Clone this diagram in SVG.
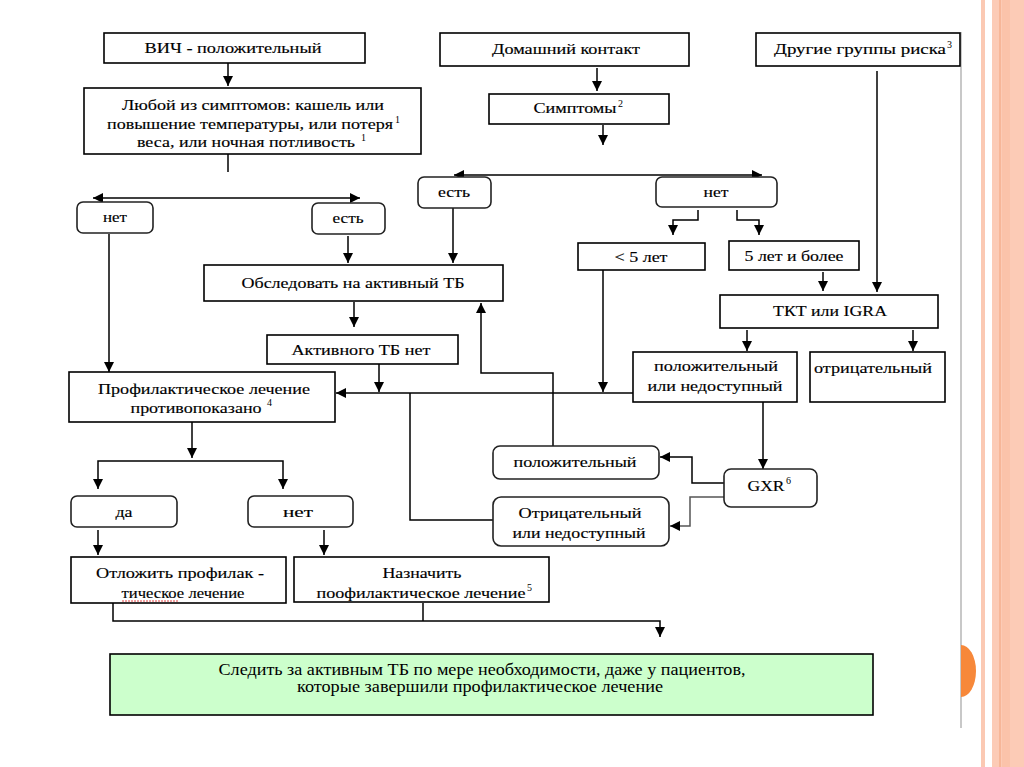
<svg xmlns="http://www.w3.org/2000/svg" width="1024" height="767" viewBox="0 0 1024 767">
<style>
.b{fill:#fff;stroke:#000;stroke-width:1.6}
.r{fill:#fff;stroke:#222;stroke-width:1.6}
.g{fill:#ccffcc;stroke:#000;stroke-width:1.6}
.t{font-family:'Liberation Serif','DejaVu Serif',serif;font-size:15px;fill:#000;stroke:#000;stroke-width:0.15;text-anchor:middle}
.s{font-family:'Liberation Serif','DejaVu Serif',serif;font-size:10px;fill:#000}
.gt{font-family:'Liberation Serif','DejaVu Serif',serif;font-size:16px;fill:#000;text-anchor:middle}
.c{fill:none;stroke:#000;stroke-width:1.5}
.ca{fill:none;stroke:#000;stroke-width:1.5;marker-end:url(#ah)}
.cd{fill:none;stroke:#000;stroke-width:1.5;marker-start:url(#ah);marker-end:url(#ah)}
</style>
<defs>
<marker id="ah" markerUnits="userSpaceOnUse" markerWidth="10" markerHeight="10" viewBox="0 0 10 10" refX="10" refY="5" orient="auto-start-reverse">
<path d="M0,0 L10,5 L0,10 Z" fill="#000"/>
</marker>
</defs>
<rect width="1024" height="767" fill="#fff"/>
<g id="decoration">
<line x1="961" y1="32" x2="961" y2="728" stroke="#c8c8c8" stroke-width="2"/>
<path d="M961,645 A15,26 0 0 1 961,697 Z" fill="#f7883a"/>
<rect x="981" y="0" width="4" height="767" fill="#fbc9b3"/>
<rect x="992" y="0" width="32" height="767" fill="#fccbb6"/>
<line x1="1000" y1="0" x2="1000" y2="767" stroke="#f2a27a" stroke-width="1"/>
<rect x="1002" y="0" width="8" height="767" fill="#fbc3aa"/>
</g>
<g id="connectors">
<path class="ca" d="M228,63 V86"/>
<path class="c" d="M228,154 V172"/>
<path class="cd" d="M93,198 H360"/>
<path class="ca" d="M109,234 V372"/>
<path class="ca" d="M348,236 V263"/>
<path class="ca" d="M453,208 V263"/>
<path class="ca" d="M354,302 V327"/>
<path class="ca" d="M379,364 V392"/>
<path class="ca" d="M633,393 H336"/>
<path class="ca" d="M603,270 V392"/>
<path class="c" d="M493,520 H410 V393"/>
<path class="ca" d="M553,446 V373 H481 V303"/>
<path class="ca" d="M597,68 V91"/>
<path class="ca" d="M603,125 V145"/>
<path class="cd" d="M454,175 H762"/>
<path class="ca" d="M698,210 V220 H673 V235"/>
<path class="ca" d="M737,210 V220 H759 V235"/>
<path class="ca" d="M823,272 V291"/>
<path class="ca" d="M877,71 V292"/>
<path class="ca" d="M747,330 V351"/>
<path class="ca" d="M913,330 V351"/>
<path class="ca" d="M763,402 V469"/>
<path class="ca" d="M724,483 H692 V457 H660"/>
<path class="ca" d="M724,497 H690 V526 H670" style="stroke:#555"/>
<path class="ca" d="M192,422 V458"/>
<path class="ca" d="M192,461 H98 V489"/>
<path class="ca" d="M192,461 H283 V489"/>
<path class="ca" d="M98,530 V555"/>
<path class="ca" d="M324,530 V555"/>
<path class="ca" d="M113,603 V621 H660 V637"/>
<path class="c" d="M423,603 V621"/>
</g>
<g id="n1"><rect class="b" x="104" y="33" width="261" height="30"/><text class="t" x="233" y="53" textLength="177" lengthAdjust="spacingAndGlyphs">ВИЧ - положительный</text></g>
<g id="n2"><rect class="b" x="84" y="88" width="337" height="66"/>
<text class="t" x="253" y="110" textLength="262" lengthAdjust="spacingAndGlyphs">Любой из симптомов: кашель или</text>
<text class="t" x="250" y="129" textLength="286" lengthAdjust="spacingAndGlyphs">повышение температуры, или потеря</text><text class="s" x="395" y="123">1</text>
<text class="t" x="246" y="147" textLength="218" lengthAdjust="spacingAndGlyphs">веса, или ночная потливость</text><text class="s" x="361" y="141">1</text></g>
<g id="n3"><rect class="r" x="77" y="202" width="76" height="31" rx="6"/><text class="t" x="115" y="222" textLength="24" lengthAdjust="spacingAndGlyphs">нет</text></g>
<g id="n4"><rect class="r" x="312" y="203" width="73" height="31" rx="6"/><text class="t" x="348" y="223" textLength="31" lengthAdjust="spacingAndGlyphs">есть</text></g>
<g id="n5"><rect class="b" x="204" y="265" width="299" height="36"/><text class="t" x="353" y="288" textLength="223" lengthAdjust="spacingAndGlyphs">Обследовать на активный ТБ</text></g>
<g id="n6"><rect class="b" x="267" y="335" width="191" height="29"/><text class="t" x="361" y="355" textLength="139" lengthAdjust="spacingAndGlyphs">Активного ТБ нет</text></g>
<g id="n7"><rect class="b" x="69" y="372" width="266" height="50"/>
<text class="t" x="204" y="394" textLength="212" lengthAdjust="spacingAndGlyphs">Профилактическое лечение</text>
<text class="t" x="196" y="413" textLength="131" lengthAdjust="spacingAndGlyphs">противопоказано</text><text class="s" x="267" y="406">4</text></g>
<g id="n8"><rect class="r" x="71" y="496" width="106" height="31" rx="6"/><text class="t" x="124" y="517" textLength="17" lengthAdjust="spacingAndGlyphs">да</text></g>
<g id="n9"><rect class="r" x="248" y="496" width="105" height="31" rx="6"/><text class="t" x="298" y="517" textLength="30" lengthAdjust="spacingAndGlyphs">нет</text></g>
<g id="n10"><rect class="b" x="71" y="557" width="215" height="46"/>
<text class="t" x="180" y="578" textLength="168" lengthAdjust="spacingAndGlyphs">Отложить профилак -</text>
<text class="t" x="183" y="598" textLength="123" lengthAdjust="spacingAndGlyphs">тическое лечение</text>
<path d="M122,601 H178" stroke="#e04040" stroke-width="1" stroke-dasharray="2,1" fill="none"/></g>
<g id="n11"><rect class="b" x="294" y="557" width="255" height="45"/>
<text class="t" x="422" y="578" textLength="79" lengthAdjust="spacingAndGlyphs">Назначить</text>
<text class="t" x="421" y="598" textLength="209" lengthAdjust="spacingAndGlyphs">поофилактическое лечение</text><text class="s" x="527" y="591">5</text></g>
<g id="n12"><rect class="g" x="110" y="654" width="763" height="61"/>
<text class="gt" x="482" y="675" textLength="527" lengthAdjust="spacingAndGlyphs">Следить за активным ТБ по мере необходимости, даже у пациентов,</text>
<text class="gt" x="480" y="692" textLength="366" lengthAdjust="spacingAndGlyphs">которые завершили профилактическое лечение</text></g>
<g id="n13"><rect class="b" x="440" y="33" width="249" height="33"/><text class="t" x="566" y="54" textLength="148" lengthAdjust="spacingAndGlyphs">Домашний контакт</text></g>
<g id="n14"><rect class="b" x="489" y="94" width="180" height="30"/><text class="t" x="575" y="113" textLength="83" lengthAdjust="spacingAndGlyphs">Симптомы</text><text class="s" x="618" y="107">2</text></g>
<g id="n15"><rect class="b" x="756" y="33" width="204" height="33"/><text class="t" x="860" y="54" textLength="172" lengthAdjust="spacingAndGlyphs">Другие группы риска</text><text class="s" x="947" y="48">3</text></g>
<g id="n16"><rect class="r" x="418" y="177" width="73" height="31" rx="6"/><text class="t" x="454" y="197" textLength="32" lengthAdjust="spacingAndGlyphs">есть</text></g>
<g id="n17"><rect class="r" x="656" y="177" width="121" height="30" rx="6"/><text class="t" x="716" y="197" textLength="25" lengthAdjust="spacingAndGlyphs">нет</text></g>
<g id="n18"><rect class="b" x="578" y="243" width="127" height="27"/><text class="t" x="641" y="262" textLength="53" lengthAdjust="spacingAndGlyphs">&lt; 5 лет</text></g>
<g id="n19"><rect class="b" x="729" y="241" width="130" height="29"/><text class="t" x="794" y="261" textLength="99" lengthAdjust="spacingAndGlyphs">5 лет и более</text></g>
<g id="n20"><rect class="b" x="720" y="295" width="218" height="33"/><text class="t" x="830" y="316" textLength="114" lengthAdjust="spacingAndGlyphs">ТКТ или IGRA</text></g>
<g id="n21"><rect class="b" x="633" y="352" width="164" height="50"/>
<text class="t" x="716" y="371" textLength="124" lengthAdjust="spacingAndGlyphs">положительный</text>
<text class="t" x="715" y="391" textLength="135" lengthAdjust="spacingAndGlyphs">или недоступный</text></g>
<g id="n22"><rect class="b" x="810" y="352" width="135" height="50"/><text class="t" x="814" y="373" textLength="118" lengthAdjust="spacingAndGlyphs" style="text-anchor:start">отрицательный</text></g>
<g id="n23"><rect class="r" x="724" y="469" width="93" height="38" rx="7"/><text class="t" x="766" y="491" textLength="37" lengthAdjust="spacingAndGlyphs">GXR</text><text class="s" x="786" y="484">6</text></g>
<g id="n24"><rect class="r" x="493" y="446" width="166" height="33" rx="7"/><text class="t" x="575" y="467" textLength="123" lengthAdjust="spacingAndGlyphs">положительный</text></g>
<g id="n25"><rect class="r" x="493" y="497" width="176" height="49" rx="8"/>
<text class="t" x="580" y="518" textLength="123" lengthAdjust="spacingAndGlyphs">Отрицательный</text>
<text class="t" x="579" y="538" textLength="133" lengthAdjust="spacingAndGlyphs">или недоступный</text></g>
</svg>
